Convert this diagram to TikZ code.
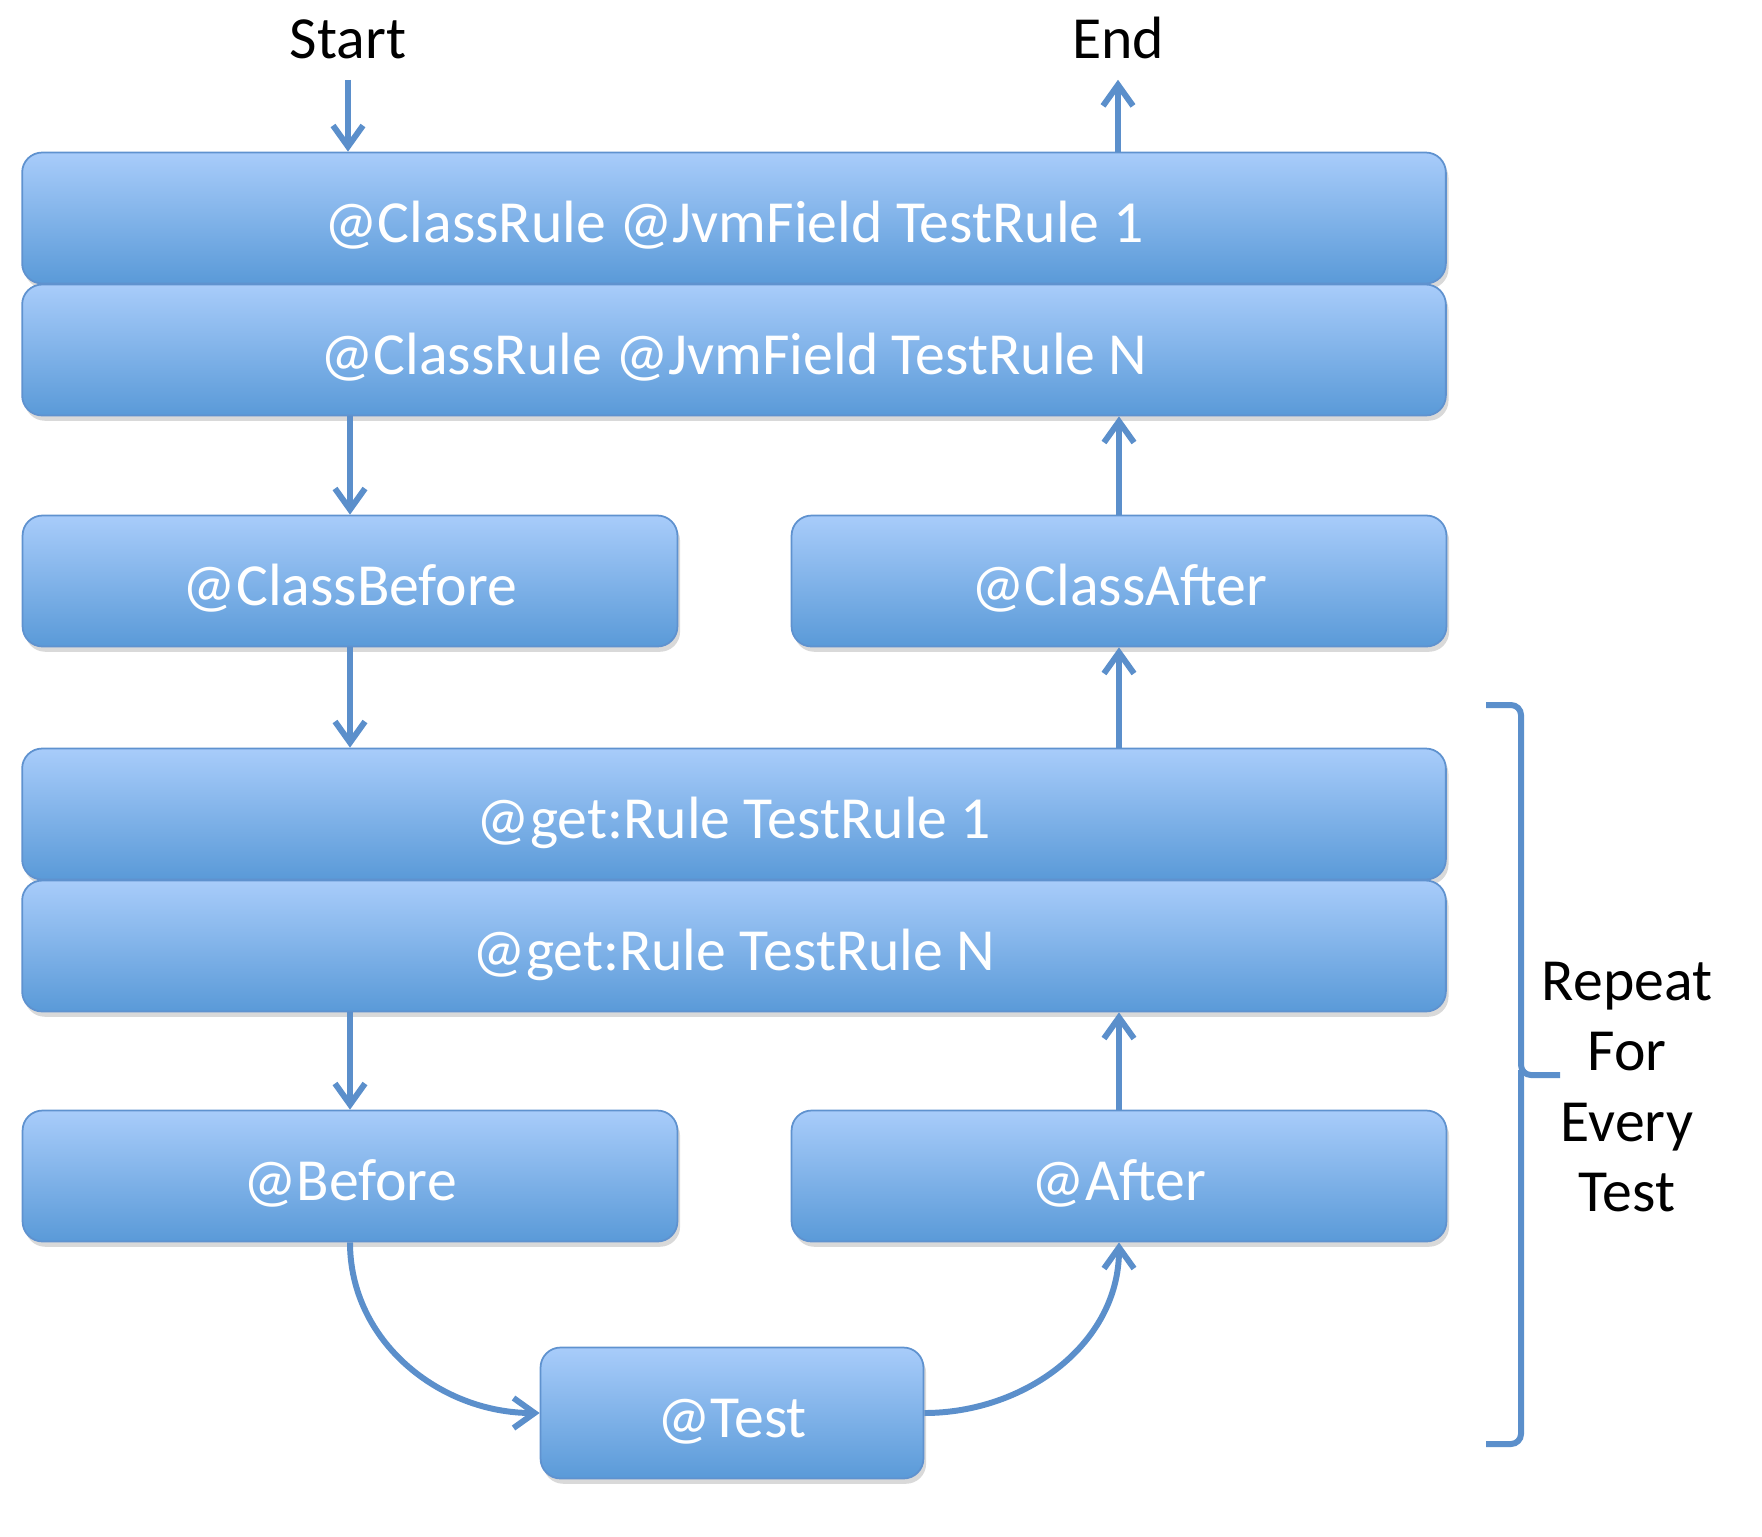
\documentclass[tikz,border=0pt]{standalone}
\usepackage{fontspec}
\setmainfont{Carlito}
\usetikzlibrary{arrows.meta,shadows}
\definecolor{boxtop}{HTML}{A8CCFA}
\definecolor{boxbot}{HTML}{5A9AD8}
\definecolor{boxline}{HTML}{5F92CF}
\definecolor{flow}{HTML}{5B8FCB}
\begin{document}
\begin{tikzpicture}[x=0.02cm,y=-0.02cm,
    box/.style={draw=boxline,line width=1pt,rounded corners=0.4cm,
        top color=boxtop,bottom color=boxbot,text=white,
        font=\fontsize{34}{40}\selectfont,minimum height=2.62cm,inner sep=0pt,
        text height=32pt,text depth=4pt,
        drop shadow={shadow xshift=1.5pt,shadow yshift=-3pt,opacity=0.3}},
    wide/.style={box,minimum width=28.48cm},
    half/.style={box,minimum width=13.1cm},
    flowarr/.style={draw=flow,line width=3.4pt,-{Straight Barb[length=0.42cm,width=0.6cm]}},
    lbl/.style={font=\fontsize{34}{40}\selectfont,anchor=base,inner sep=0.42cm}]
    \useasboundingbox(0,0)rectangle(1762,1536);
    % start and end
    \node[lbl](start)at(348,58){Start};
    \node[lbl](end)at(1118,58){End};
    % class level
    \node[wide](cr1)at(734,218){@ClassRule @JvmField TestRule 1};
    \node[wide](crN)at(734,350){@ClassRule @JvmField TestRule N};
    \node[half](cbefore)at(350,581){@ClassBefore};
    \node[half](cafter)at(1119,581){@ClassAfter};
    % test level
    \node[wide](gr1)at(734,814){@get:Rule TestRule 1};
    \node[wide](grN)at(734,946){@get:Rule TestRule N};
    \node[half](before)at(350,1176){@Before};
    \node[half](after)at(1119,1176){@After};
    \node[box,minimum width=7.66cm](test)at(732,1413){@Test};
    % flow
    \draw[flowarr](start.south)--(start.south|-cr1.north);
    \draw[flowarr](crN.south-|cbefore)--(cbefore.north);
    \draw[flowarr](cbefore.south)--(cbefore.south|-gr1.north);
    \draw[flowarr](grN.south-|before)--(before.north);
    \draw[flowarr](before.south)to[out=-90,in=180](test.west);
    \draw[flowarr](test.east)to[out=0,in=-90](after.south);
    \draw[flowarr](after.north)--(after.north|-grN.south);
    \draw[flowarr](gr1.north-|cafter)--(cafter.south);
    \draw[flowarr](cafter.north)--(cafter.north|-crN.south);
    \draw[flowarr](cr1.north-|end)--(end.south);
    % bracket
    \draw[flow,line width=3.4pt,rounded corners=0.2cm](1486,705)-|(1521,1075)--(1560,1075);
    \draw[flow,line width=3.4pt,rounded corners=0.2cm](1521,1070)|-(1486,1444);
    \node[font=\fontsize{34}{40}\selectfont,align=center](repeat)at(1627,1087){Repeat\\For\\Every\\Test};
\end{tikzpicture}
\end{document}
